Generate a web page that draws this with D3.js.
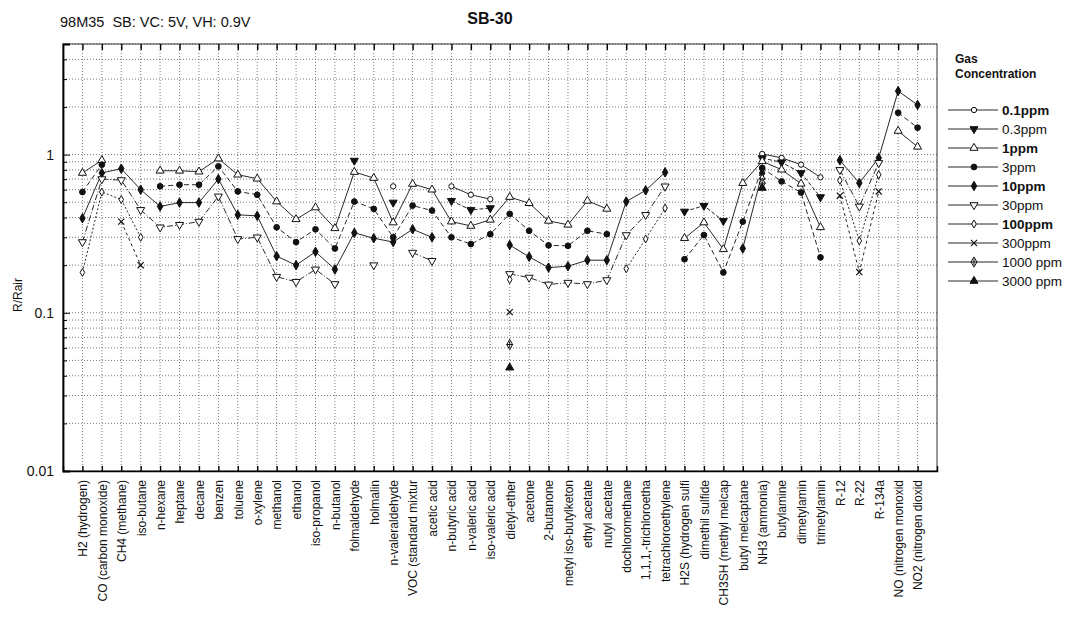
<!DOCTYPE html>
<html>
<head>
<meta charset="utf-8">
<script src="https://cdn.jsdelivr.net/npm/d3@7"></script>
<style>
  body { margin: 0; background: #fff; }
  text { font-family: Arial, "Liberation Sans", sans-serif; fill: #111; }
</style>
</head>
<body>
<svg id="chart" width="1071" height="635"></svg>
<script>
const _ = null;

const gases = [
  "H2 (hydrogen)", "CO (carbon monoxide)", "CH4 (methane)", "iso-butane", "n-hexane",
  "heptane", "decane", "benzen", "toluene", "o-xylene",
  "methanol", "ethanol", "iso-propanol", "n-butanol", "folmaldehyde",
  "holmalin", "n-valeraldehyde", "VOC (standard mixtur", "acetic acid", "n-butyric acid",
  "n-valeric acid", "iso-valeric acid", "dietyl-ether", "acetone", "2-butanone",
  "metyl iso-butylketon", "ethyl acetate", "nutyl acetate", "dochloromethane", "1,1,1,-trichloroetha",
  "tetrachloroethylene", "H2S (hydrogen sulfi", "dimethil sulfide", "CH3SH (methyl melcap", "butyl melcaptane",
  "NH3 (ammonia)", "butylamine", "dimetylamin", "trimetylamin", "R-12",
  "R-22", "R-134a", "NO (nitrogen monoxid", "NO2 (nitrogen dioxid"
];

// R/Rair per gas, one array per concentration (null = not measured)
const ppm0_1 = [
  _, _, _, _, _, _, _, _, _, _,
  _, _, _, _, _, _, 0.63, _, _, 0.63,
  0.557, 0.523, _, _, _, _, _, _, _, _,
  _, _, _, _, _, 1.01, 0.953, 0.864, 0.718, _,
  _, _, _, _
];
const ppm0_3 = [
  _, _, _, _, _, _, _, _, _, _,
  _, _, _, _, 0.916, _, 0.498, _, _, 0.51,
  0.447, 0.459, _, _, _, _, _, _, _, _,
  _, 0.437, 0.475, 0.381, _, 0.95, 0.894, 0.765, 0.539, _,
  _, _, _, _
];
const ppm1 = [
  0.765, 0.92, _, _, 0.79, 0.79, 0.78, 0.943, 0.746, 0.704,
  0.505, 0.39, 0.463, 0.342, 0.776, 0.711, 0.372, 0.652, 0.60, 0.377,
  0.354, 0.387, 0.539, 0.493, 0.381, 0.36, 0.51, 0.454, _, _,
  _, 0.296, 0.372, 0.252, 0.66, 0.907, 0.803, 0.654, 0.347, _,
  _, _, 1.41, 1.12
];
const ppm3 = [
  0.58, 0.864, _, _, 0.63, 0.645, 0.645, 0.843, 0.585, 0.557,
  0.347, 0.28, 0.337, 0.255, 0.505, 0.454, 0.30, 0.476, 0.443, 0.30,
  0.272, 0.314, 0.422, 0.33, 0.267, 0.265, 0.33, 0.314, _, _,
  _, 0.218, 0.31, 0.18, 0.377, 0.823, 0.677, 0.576, 0.224, _,
  _, _, 1.84, 1.48
];
const ppm10 = [
  0.396, 0.765, 0.815, 0.60, 0.47, 0.497, 0.497, 0.70, 0.416, 0.41,
  0.228, 0.20, 0.243, 0.188, 0.32, 0.296, 0.28, 0.337, 0.30, _,
  _, _, 0.268, 0.226, 0.193, 0.197, 0.215, 0.215, 0.505, 0.594,
  0.772, _, _, _, 0.255, 0.765, _, _, _, 0.92,
  0.661, 0.953, 2.52, 2.06
];
const ppm30 = [
  0.28, 0.70, 0.69, 0.447, 0.347, 0.36, 0.377, 0.544, 0.293, 0.30,
  0.169, 0.157, 0.188, 0.152, _, 0.20, _, 0.24, 0.213, _,
  _, _, 0.176, 0.167, 0.151, 0.155, 0.152, 0.161, 0.31, 0.416,
  0.63, _, _, _, _, _, _, _, _, 0.80,
  0.47, 0.886, _, _
];
const ppm100 = [
  0.18, 0.58, 0.52, 0.30, _, _, _, _, _, _,
  _, _, _, _, _, _, _, _, _, _,
  _, _, 0.162, _, _, _, _, _, 0.19, 0.293,
  0.459, _, _, _, _, 0.71, _, _, _, 0.687,
  0.285, 0.746, _, _
];
const ppm300 = [
  _, _, 0.377, 0.20, _, _, _, _, _, _,
  _, _, _, _, _, _, _, _, _, _,
  _, _, 0.101, _, _, _, _, _, _, _,
  _, _, _, _, _, 0.68, _, _, _, 0.55,
  0.181, 0.585, _, _
];
const ppm1000 = [
  _, _, _, _, _, _, _, _, _, _,
  _, _, _, _, _, _, _, _, _, _,
  _, _, 0.063, _, _, _, _, _, _, _,
  _, _, _, _, _, 0.66, _, _, _, _,
  _, _, _, _
];
const ppm3000 = [
  _, _, _, _, _, _, _, _, _, _,
  _, _, _, _, _, _, _, _, _, _,
  _, _, 0.045, _, _, _, _, _, _, _,
  _, _, _, _, _, 0.615, _, _, _, _,
  _, _, _, _
];

const yMajorTicks = [0.01, 0.1, 1];

const series = [
  { name: "0.1ppm",   values: ppm0_1,  marker: "circle",  fill: "#fff", dash: null,      bold: true },
  { name: "0.3ppm",   values: ppm0_3,  marker: "tridown", fill: "#111", dash: "4,2",     bold: false },
  { name: "1ppm",     values: ppm1,    marker: "triup",   fill: "#fff", dash: null,      bold: true },
  { name: "3ppm",     values: ppm3,    marker: "circle",  fill: "#111", dash: "5,3",     bold: false },
  { name: "10ppm",    values: ppm10,   marker: "diamond", fill: "#111", dash: null,      bold: true },
  { name: "30ppm",    values: ppm30,   marker: "tridown", fill: "#fff", dash: "6,2,1,2", bold: false },
  { name: "100ppm",   values: ppm100,  marker: "diamond", fill: "#fff", dash: "2,2",     bold: true },
  { name: "300ppm",   values: ppm300,  marker: "x",       fill: "none", dash: "3,3",     bold: false },
  { name: "1000 ppm", values: ppm1000, marker: "xdiam",   fill: "#fff", dash: "6,2,1,2", bold: false },
  { name: "3000 ppm", values: ppm3000, marker: "triup",   fill: "#111", dash: null,      bold: false }
];

const svg = d3.select("#chart");
const pLeft = 63, pRight = 937, pTop = 44, pBottom = 471;

const x = d3.scalePoint().domain(gases).range([pLeft, pRight]).padding(1);
const y = d3.scaleLog().domain([0.01, 5]).range([pBottom, pTop]);

// titles
svg.append("text").attr("x", 60).attr("y", 27).style("font-size", "14.5px")
  .style("white-space", "pre").text("98M35  SB: VC: 5V, VH: 0.9V");
svg.append("text").attr("x", 490).attr("y", 24).attr("text-anchor", "middle")
  .style("font-size", "16px").style("font-weight", "bold").text("SB-30");

// grid
const minor = [];
[0.01, 0.1, 1].forEach(d => { for (let k = 1; k <= 9; k++) { const v = +(d * k).toPrecision(3); if (v <= 5 && v > 0.01) minor.push(v); } });

const grid = svg.append("g").attr("stroke", "#555").attr("stroke-width", 0.8).attr("stroke-dasharray", "1,2");
grid.selectAll(".h").data(minor).enter().append("line")
  .attr("x1", pLeft).attr("x2", pRight).attr("y1", d => y(d)).attr("y2", d => y(d));
grid.selectAll(".v").data(gases).enter().append("line")
  .attr("x1", d => x(d)).attr("x2", d => x(d)).attr("y1", pTop).attr("y2", pBottom);

// frame
svg.append("rect").attr("x", pLeft).attr("y", pTop).attr("width", pRight - pLeft).attr("height", pBottom - pTop)
  .attr("fill", "none").attr("stroke", "#333").attr("stroke-width", 1);

// y axis
const yAxis = svg.append("g").attr("transform", `translate(${pLeft},0)`)
  .call(d3.axisLeft(y).tickValues(yMajorTicks).tickSize(-7).tickPadding(9)
    .tickFormat(d => d >= 1 ? "1" : String(d)));
yAxis.select(".domain").attr("stroke-width", 1.8);
yAxis.selectAll("text").style("font-size", "14px").attr("fill", "#111");
svg.append("g").attr("transform", `translate(${pLeft},0)`)
  .call(d3.axisLeft(y).tickValues(minor.filter(v => yMajorTicks.indexOf(v) < 0)).tickSize(-4).tickFormat(""))
  .select(".domain").remove();

svg.append("text").attr("transform", "translate(22,295) rotate(-90)").attr("text-anchor", "middle")
  .style("font-size", "12px").text("R/Rair");

// x axis ticks top and bottom
svg.append("g").attr("transform", `translate(0,${pTop})`)
  .call(d3.axisTop(x).tickSize(-6).tickFormat(""))
  .call(g => g.select(".domain").remove())
  .selectAll("line").attr("stroke-width", 1.4);

const xAxis = svg.append("g").attr("transform", `translate(0,${pBottom})`)
  .call(d3.axisBottom(x).tickSize(-5));
xAxis.select(".domain").attr("stroke-width", 1.4);
xAxis.selectAll("line").attr("stroke-width", 1.4);
xAxis.selectAll("text")
  .attr("transform", "rotate(-90)")
  .attr("x", -9).attr("y", 0).attr("dy", "0.36em")
  .style("text-anchor", "end").style("font-size", "12px").attr("fill", "#111");

// markers
function drawMarker(g, m, fill) {
  if (m === "circle") {
    g.append("path").attr("d", d3.symbol().type(d3.symbolCircle).size(fill === "#fff" ? 22 : 26)()).attr("fill", fill).attr("stroke", "#111");
  } else if (m === "triup") {
    g.append("path").attr("d", d3.symbol().type(d3.symbolTriangle).size(28)()).attr("fill", fill).attr("stroke", "#111");
  } else if (m === "tridown") {
    g.append("path").attr("d", d3.symbol().type(d3.symbolTriangle).size(28)()).attr("transform", "rotate(180)")
      .attr("fill", fill).attr("stroke", "#111");
  } else if (m === "diamond") {
    g.append("path").attr("d", d3.symbol().type(d3.symbolDiamond).size(fill === "#fff" ? 18 : 26)()).attr("fill", fill).attr("stroke", "#111");
  } else if (m === "x") {
    g.append("path").attr("d", d3.symbol().type(d3.symbolX).size(26)()).attr("fill", "none").attr("stroke", "#111").attr("stroke-width", 1.2);
  } else if (m === "xdiam") {
    g.append("path").attr("d", d3.symbol().type(d3.symbolDiamond).size(30)()).attr("fill", fill).attr("stroke", "#111");
    g.append("path").attr("d", d3.symbol().type(d3.symbolPlus).size(16)()).attr("fill", "none").attr("stroke", "#111");
  }
}

const line = d3.line()
  .defined(d => d.v != null)
  .x(d => x(d.g))
  .y(d => y(d.v));

const plot = svg.append("g");
series.forEach(s => {
  const pts = gases.map((g, i) => ({ g: g, v: s.values[i] }));
  plot.append("path").datum(pts)
    .attr("d", line)
    .attr("fill", "none")
    .attr("stroke", "#111")
    .attr("stroke-width", 0.9)
    .attr("stroke-dasharray", s.dash);
});
series.forEach(s => {
  const pts = gases.map((g, i) => ({ g: g, v: s.values[i] })).filter(d => d.v != null);
  plot.selectAll(null).data(pts).enter().append("g")
    .attr("transform", d => `translate(${x(d.g)},${y(d.v)})`)
    .each(function () { drawMarker(d3.select(this), s.marker, s.fill); });
});

// legend
const legend = svg.append("g");
legend.append("text").attr("x", 955).attr("y", 63).style("font-size", "12px").style("font-weight", "bold").text("Gas");
legend.append("text").attr("x", 955).attr("y", 78).style("font-size", "12px").style("font-weight", "bold").text("Concentration");
series.forEach((s, i) => {
  const ly = 110 + i * 19;
  legend.append("line").attr("x1", 948).attr("x2", 998).attr("y1", ly).attr("y2", ly)
    .attr("stroke", "#111").attr("stroke-width", 0.9);
  drawMarker(legend.append("g").attr("transform", `translate(974,${ly})`), s.marker, s.fill);
  legend.append("text").attr("x", 1002).attr("y", ly + 5)
    .style("font-size", "13.5px").style("font-weight", s.bold ? "bold" : "normal")
    .attr("fill", s.bold ? "#111" : "#444").text(s.name);
});
</script>
</body>
</html>
